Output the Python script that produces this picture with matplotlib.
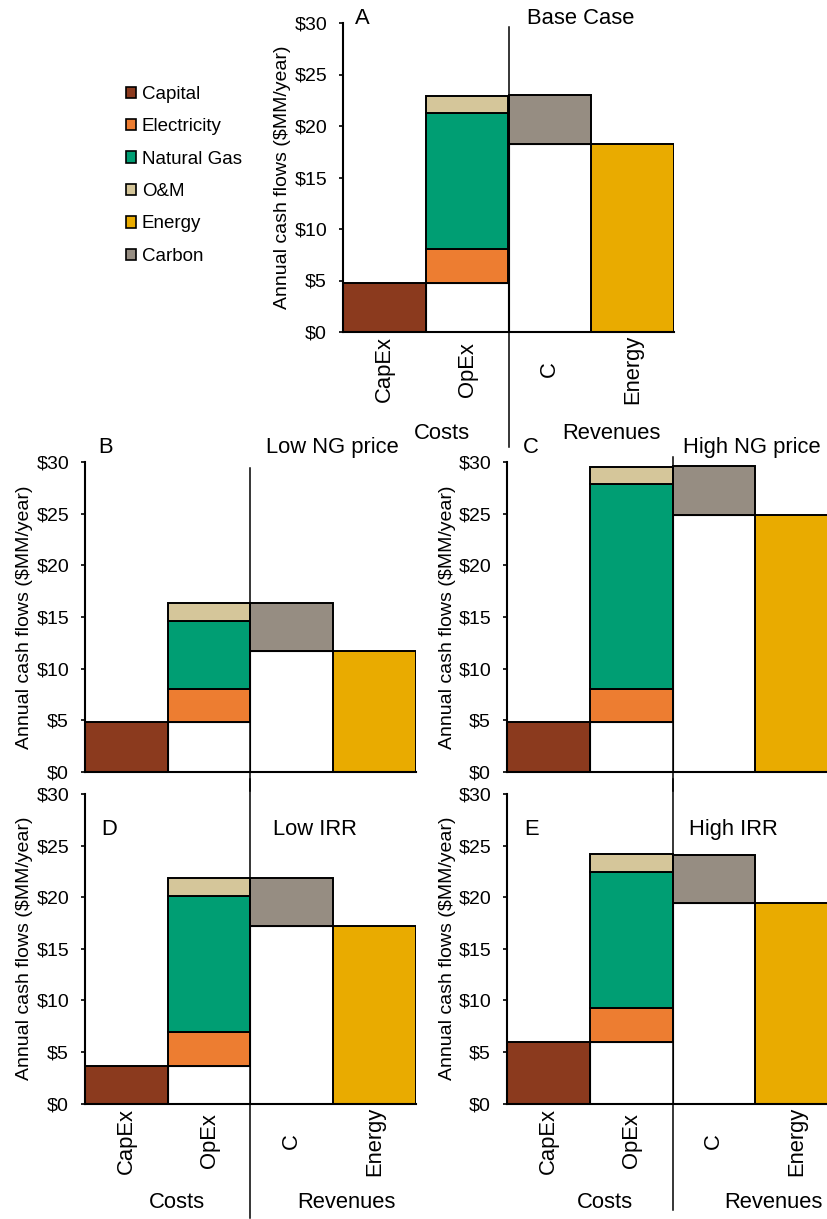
import matplotlib.pyplot as plt
from matplotlib.patches import Patch

plt.rcParams['font.family'] = ['Liberation Sans', 'DejaVu Sans']

# Scenario data ($MM/year)
scenarios = ["Base Case", "Low NG price", "High NG price", "Low IRR", "High IRR"]
letters = ["A", "B", "C", "D", "E"]
bar_labels = ["CapEx", "OpEx", "C", "Energy"]

capital = [4.8, 4.8, 4.8, 3.65, 6.0]
electricity = [3.25, 3.25, 3.25, 3.3, 3.25]
natural_gas = [13.2, 6.6, 19.8, 13.2, 13.2]
om = [1.7, 1.7, 1.7, 1.7, 1.7]
energy = [18.3, 11.7, 24.9, 17.2, 19.4]
carbon = [4.7, 4.65, 4.7, 4.65, 4.7]

c_capital = '#8b3a1e'
c_elec = '#ed7d31'
c_ng = '#009e73'
c_om = '#d5c69a'
c_energy = '#e9ab00'
c_carbon = '#968d82'

W, H = 828, 1219
fig = plt.figure(figsize=(W / 100, H / 100), dpi=100)

# axes boxes in pixels: left, bottom (from top), width, height
boxes = [(343, 332, 331, 309), (85, 772, 331, 310), (507, 772, 331, 310),
         (85, 1103.5, 331, 309.5), (507, 1103.5, 331, 309.5)]
# letter / title positions (axes fraction)
letter_pos = [(0.057, 1.016), (0.063, 1.048), (0.073, 1.048), (0.073, 0.884), (0.073, 0.884)]
title_pos = [(0.719, 1.016), (0.746, 1.048), (0.740, 1.048), (0.695, 0.884), (0.685, 0.884)]
group_pos = [((0.299, 0.810), -0.327), None, None, ((0.278, 0.789), -0.321), ((0.296, 0.804), -0.321)]
divider = [(-0.372, 0.987), (-0.06, 0.981), (-0.06, 1.016), (-0.37, 1.05), (-0.344, 1.05)]
show_x = [True, False, False, True, True]

ec = 'black'
lw = 1.4

for i in range(5):
    l, b, w, h = boxes[i]
    ax = fig.add_axes([l / W, 1 - b / H, w / W, h / H])

    # CapEx
    ax.bar(0, capital[i], width=1.0, color=c_capital, edgecolor=ec, linewidth=lw)
    # OpEx stacked on white base
    ax.bar(1, capital[i], width=1.0, color='white', edgecolor=ec, linewidth=0.8)
    bottom = capital[i]
    for val, col in [(electricity[i], c_elec), (natural_gas[i], c_ng), (om[i], c_om)]:
        ax.bar(1, val, bottom=bottom, width=1.0, color=col, edgecolor=ec, linewidth=lw)
        bottom += val
    # Carbon revenue on white base
    ax.bar(2, energy[i], width=1.0, color='white', edgecolor=ec, linewidth=0.8)
    ax.bar(2, carbon[i], bottom=energy[i], width=1.0, color=c_carbon, edgecolor=ec, linewidth=lw)
    # Energy revenue
    ax.bar(3, energy[i], width=1.0, color=c_energy, edgecolor=ec, linewidth=lw)

    ax.set_xlim(-0.5, 3.5)
    ax.set_ylim(0, 30)
    ax.set_yticks(range(0, 31, 5))
    ax.set_yticklabels([f"\\${v}" for v in range(0, 31, 5)], fontsize=14)
    ax.tick_params(axis='y', direction='out', length=3, width=1.2, pad=8.5)
    for s in ['top', 'right']:
        ax.spines[s].set_visible(False)
    for s in ['left', 'bottom']:
        ax.spines[s].set_linewidth(1.5)

    ax.set_xticks(range(4))
    if show_x[i]:
        ax.set_xticklabels(bar_labels, rotation=90, fontsize=15.8, va='center')
        ax.tick_params(axis='x', length=0, pad=27)
        (gx1, gx2), gy = group_pos[i]
        ax.text(gx1, gy, "Costs", transform=ax.transAxes, ha='center', va='center', fontsize=15.8)
        ax.text(gx2, gy, "Revenues", transform=ax.transAxes, ha='center', va='center', fontsize=15.8)
    else:
        ax.set_xticklabels([])
        ax.tick_params(axis='x', length=0)

    ax.set_ylabel("Annual cash flows (\\$MM/year)", fontsize=14, va='center')
    ax.yaxis.set_label_coords(-60 / w, 0.5)

    ax.text(*letter_pos[i], letters[i], transform=ax.transAxes, ha='center', va='center', fontsize=15.8)
    ax.text(*title_pos[i], scenarios[i], transform=ax.transAxes, ha='center', va='center', fontsize=15.8)

    ymin, ymax = divider[i]
    ax.axvline(1.5, ymin=ymin, ymax=ymax, color='black', linewidth=1.1, clip_on=False, zorder=5)

handles = [Patch(facecolor=c, edgecolor='black', linewidth=1.2, label=n) for c, n in
           [(c_capital, "Capital"), (c_elec, "Electricity"), (c_ng, "Natural Gas"),
            (c_om, "O&M"), (c_energy, "Energy"), (c_carbon, "Carbon")]]
fig.legend(handles=handles, loc='upper left', bbox_to_anchor=(126 / W, 1 - 86 / H),
           frameon=False, fontsize=13.5, handlelength=0.55, handleheight=0.55,
           handletextpad=0.3, labelspacing=0.82, borderpad=0, borderaxespad=0)

fig.savefig("out.png", dpi=100)
